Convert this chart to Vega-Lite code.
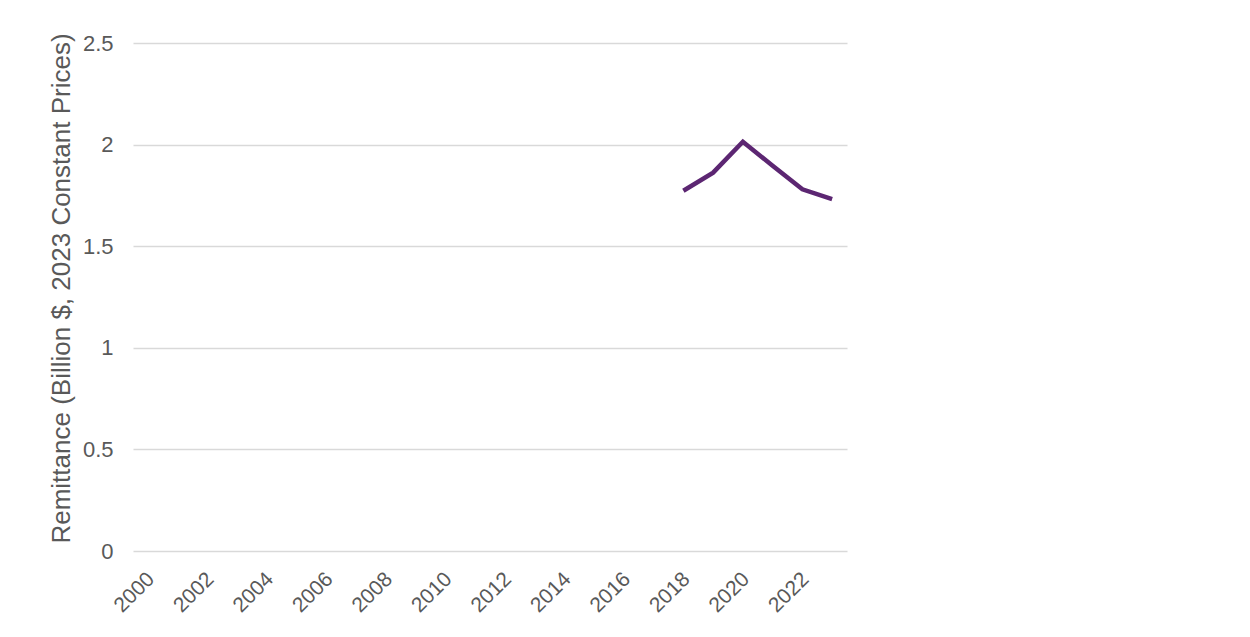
{
  "$schema": "https://vega.github.io/schema/vega-lite/v6.json",
  "width": 714,
  "height": 508,
  "autosize": {"type": "none"},
  "padding": {"left": 133, "top": 43, "right": 403, "bottom": 86},
  "background": "white",
  "config": {
    "font": "Liberation Sans",
    "view": {"stroke": null},
    "axis": {"labelColor": "#595959", "titleColor": "#595959", "labelFont": "Liberation Sans", "titleFont": "Liberation Sans"}
  },
  "data": {
    "values": [
      {"year": 2018, "remittance": 1.773},
      {"year": 2019, "remittance": 1.862},
      {"year": 2020, "remittance": 2.014},
      {"year": 2021, "remittance": 1.896},
      {"year": 2022, "remittance": 1.780},
      {"year": 2023, "remittance": 1.732}
    ]
  },
  "mark": {"type": "line", "color": "#5C2672", "strokeWidth": 4.5, "strokeJoin": "miter"},
  "encoding": {
    "x": {
      "field": "year",
      "type": "ordinal",
      "scale": {"domain": [2000,2001,2002,2003,2004,2005,2006,2007,2008,2009,2010,2011,2012,2013,2014,2015,2016,2017,2018,2019,2020,2021,2022,2023], "paddingInner": 0, "paddingOuter": 0.5},
      "axis": {
        "title": null,
        "values": [2000,2002,2004,2006,2008,2010,2012,2014,2016,2018,2020,2022],
        "labelAngle": -45,
        "labelFontSize": 21,
        "labelPadding": 17,
        "labelOffset": -5,
        "ticks": false,
        "domain": false,
        "grid": false
      }
    },
    "y": {
      "field": "remittance",
      "type": "quantitative",
      "scale": {"domain": [0, 2.5], "nice": false},
      "axis": {
        "title": "Remittance (Billion $, 2023 Constant Prices)",
        "titleFontSize": 26,
        "titleFontWeight": "normal",
        "titlePadding": 8,
        "titleY": 245,
        "values": [0, 0.5, 1, 1.5, 2, 2.5],
        "format": "~g",
        "labelFontSize": 22,
        "labelPadding": 20,
        "ticks": false,
        "domain": false,
        "grid": true,
        "gridColor": "#D9D9D9",
        "gridWidth": 1.3
      }
    }
  }
}
